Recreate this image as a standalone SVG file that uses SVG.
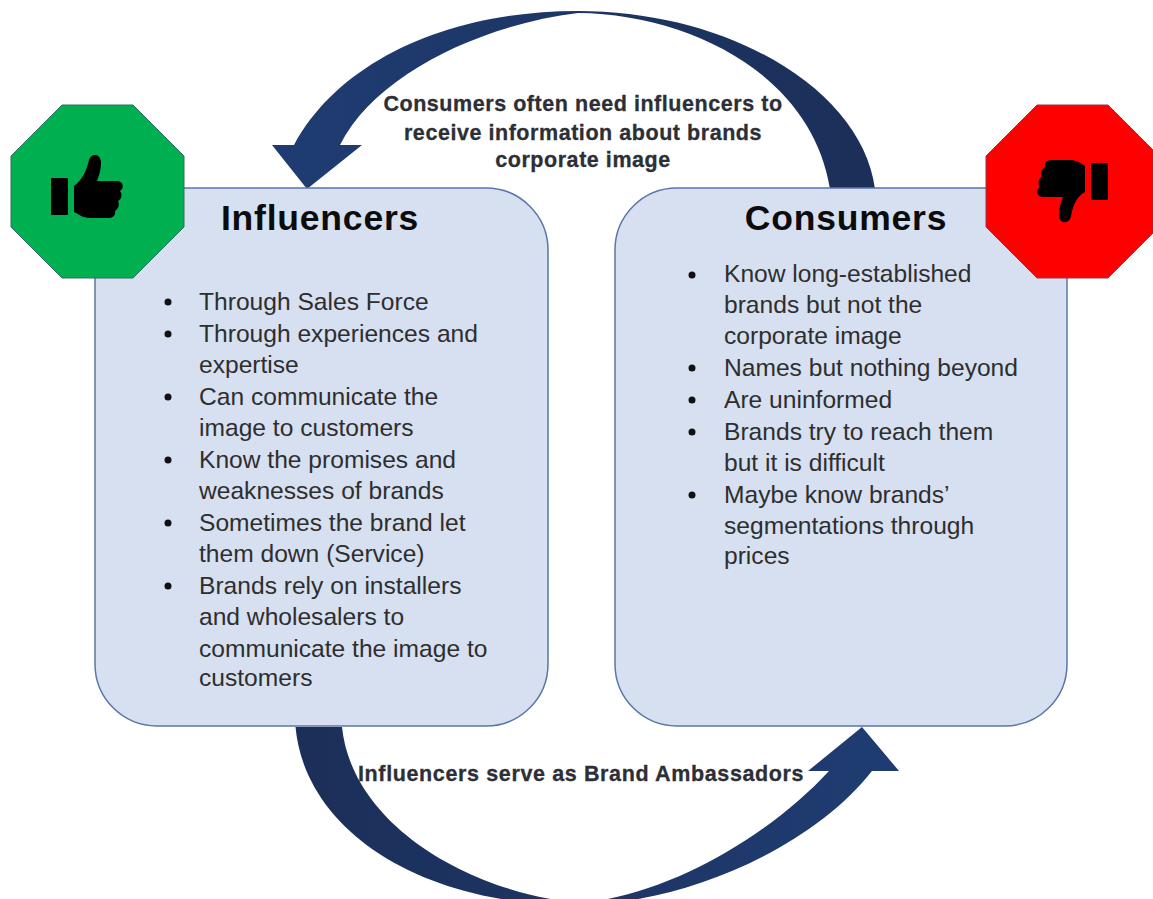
<svg xmlns="http://www.w3.org/2000/svg" width="1153" height="899" viewBox="0 0 1153 899">
<defs>
<linearGradient id="a" x1="0" x2="1" y1="0" y2="0"><stop offset="0" stop-color="#1f3c72"/><stop offset="1" stop-color="#1b2f58"/></linearGradient>
<linearGradient id="b" x1="0" x2="1" y1="0" y2="0"><stop offset="0" stop-color="#1b2f58"/><stop offset="1" stop-color="#1f3c72"/></linearGradient>
</defs>
<style>
text{font-family:"Liberation Sans",Arial,sans-serif}
.box{fill:#d6e0f1;stroke:#5b76a8;stroke-width:1.5}
.h{font-size:35.500px;font-weight:700;letter-spacing:.8px;fill:#0c0c0c;text-anchor:middle}
.b{font-size:24.6px;fill:#2e2e2e}
.l{font-size:21.5px;font-weight:700;letter-spacing:.55px;fill:#2c2f36;stroke:#2c2f36;stroke-width:.3}
.c{text-anchor:middle}
.w{letter-spacing:.63px}
.dot{fill:#111}
</style>
<rect width="1153" height="899" fill="#fff"/>
<g id="connectors">
<path fill="url(#a)" d="M875 189C862 90 730 11 578 11C450 11 340 60 294 145L272 145L307 189L362 145L340 145C375 75 480 25 578 13C690 14 812 75 830 189Z"/>
<path fill="url(#b)" d="M295.500 727C305 830 420 905 575 905C680 905 810 850 872 771L899 771L862 727L808 771L829 771C770 835 670 895 580 903C470 893 352 825 342 727Z"/>
</g>
<g id="influencers">
<rect class="box" x="95" y="188" width="453" height="538" rx="62"/>
<text class="h" x="320" y="230">Influencers</text>
<g class="b">
<text x="199" y="310">Through Sales Force</text>
<text x="199" y="342">Through experiences and</text>
<text x="199" y="373">expertise</text>
<text x="199" y="405">Can communicate the</text>
<text x="199" y="436">image to customers</text>
<text x="199" y="468">Know the promises and</text>
<text x="199" y="499">weaknesses of brands</text>
<text x="199" y="531">Sometimes the brand let</text>
<text x="199" y="562">them down (Service)</text>
<text x="199" y="594">Brands rely on installers</text>
<text x="199" y="625">and wholesalers to</text>
<text x="199" y="657">communicate the image to</text>
<text x="199" y="686">customers</text>
</g>
<g class="dot">
<circle cx="168" cy="302" r="3.5"/><circle cx="168" cy="334" r="3.5"/><circle cx="168" cy="397" r="3.5"/><circle cx="168" cy="460" r="3.5"/><circle cx="168" cy="523" r="3.5"/><circle cx="168" cy="586" r="3.5"/>
</g>
</g>
<g id="consumers">
<rect class="box" x="615" y="188" width="452" height="538" rx="62"/>
<text class="h" x="846" y="230">Consumers</text>
<g class="b">
<text x="724" y="282">Know long-established</text>
<text x="724" y="313">brands but not the</text>
<text x="724" y="344">corporate image</text>
<text x="724" y="376">Names but nothing beyond</text>
<text x="724" y="408">Are uninformed</text>
<text x="724" y="440">Brands try to reach them</text>
<text x="724" y="471">but it is difficult</text>
<text x="724" y="503">Maybe know brands’</text>
<text x="724" y="534">segmentations through</text>
<text x="724" y="564">prices</text>
</g>
<g class="dot">
<circle cx="692" cy="275" r="3.5"/><circle cx="692" cy="368" r="3.5"/><circle cx="692" cy="400" r="3.5"/><circle cx="692" cy="432" r="3.5"/><circle cx="692" cy="495" r="3.5"/>
</g>
</g>
<g id="thumbs-up">
<polygon points="62,105 133,105 184,156 184,227 133,278 62,278 11,227 11,156" fill="#00b050" stroke="#2f6f6a" stroke-width="1"/>
<rect x="51" y="178" width="17" height="37" rx="1" fill="#000"/>
<path fill="#000" d="M74 186C82 180 86 172 89 160C91 153 101 153 101 163C101 170 99 175 97 181L118 181C124 182 124 189 120 191C123 195 121 200 118 201C120 205 118 209 115 211C116 215 113 218 109 218L90 218C83 218 78 214 74 212Z"/>
</g>
<g id="thumbs-down">
<polygon points="1037,105 1108,105 1159,156 1159,227 1108,278 1037,278 986,227 986,156" fill="#ff0000" stroke="#8c3b4a" stroke-width="1"/>
<rect x="1091" y="163" width="17" height="37" rx="1" fill="#000"/>
<path fill="#000" d="M1085 192C1077 196 1073 205 1071 216C1069 225 1059 224 1059 215C1059 208 1061 202 1063 197L1042 197C1036 196 1036 189 1040 187C1037 183 1039 178 1042 177C1040 173 1042 169 1045 167C1044 163 1047 160 1051 160L1070 160C1077 160 1082 164 1085 166Z"/>
</g>
<g id="labels">
<text class="l c" x="583" y="111">Consumers often need influencers to</text>
<text class="l c" x="583" y="140">receive information about brands</text>
<text class="l c" x="583" y="167">corporate image</text>
<text class="l w" x="358" y="781">Influencers serve as Brand Ambassadors</text>
</g>
</svg>
